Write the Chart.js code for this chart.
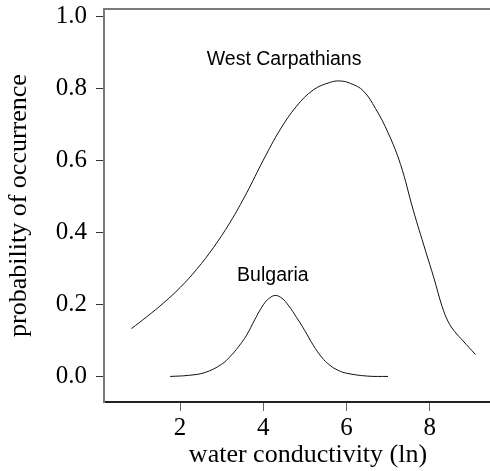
<!DOCTYPE html>
<html>
<head>
<meta charset="utf-8">
<script src="https://cdn.jsdelivr.net/npm/chart.js@4"></script>
<style>
html,body{margin:0;padding:0;background:#fff;}
canvas{display:block;}
</style>
</head>
<body>
<canvas id="c" width="490" height="471"></canvas>
<script>
const westX = [0.83,1.2,1.6,2.0,2.4,2.8,3.2,3.6,4.0,4.4,4.8,5.2,5.6,5.85,6.1,6.4,6.7,7.0,7.3,7.6,7.9,8.1,8.3,8.45,8.6,8.8,9.1];
const westY = [0.134,0.167,0.205,0.248,0.299,0.359,0.429,0.511,0.602,0.686,0.752,0.797,0.818,0.822,0.815,0.795,0.745,0.678,0.590,0.465,0.350,0.275,0.195,0.152,0.126,0.100,0.062];
const bulgX = [1.76,2.2,2.6,3.0,3.2,3.4,3.6,3.8,4.0,4.15,4.3,4.45,4.6,4.8,5.0,5.2,5.4,5.6,5.8,6.0,6.5,7.0];
const bulgY = [0.001,0.004,0.012,0.035,0.056,0.083,0.116,0.160,0.200,0.219,0.226,0.218,0.199,0.165,0.128,0.088,0.055,0.032,0.018,0.010,0.002,0.001];
const xTicks = [2,4,6,8];
const yTicks = [0.0,0.2,0.4,0.6,0.8,1.0];
const seriesLabels = ["West Carpathians","Bulgaria"];
const labelPos = [[4.50,0.866],[4.23,0.267]];
const xTitle = "water conductivity (ln)";
const yTitle = "probability of occurrence";

const toPts = (xs, ys) => xs.map((x, i) => ({x: x, y: ys[i]}));

const serif = "'Liberation Serif', 'Times New Roman', serif";
const sans = "'Liberation Sans', Arial, sans-serif";

const decor = {
  id: 'decor',
  afterDraw(chart) {
    const ctx = chart.ctx, a = chart.chartArea;
    ctx.save();
    ctx.strokeStyle = '#7a7a7a';
    ctx.lineWidth = 2;
    ctx.beginPath();
    ctx.moveTo(a.left - 1, a.top);
    ctx.lineTo(a.right, a.top);
    ctx.stroke();
    ctx.fillStyle = '#000';
    ctx.font = "19.5px " + sans;
    ctx.textAlign = 'center';
    ctx.textBaseline = 'alphabetic';
    const xs = chart.scales.x, ys = chart.scales.y;
    seriesLabels.forEach((t, i) => {
      ctx.fillText(t, xs.getPixelForValue(labelPos[i][0]), ys.getPixelForValue(labelPos[i][1]));
    });
    ctx.font = "26px " + serif;
    ctx.fillText(xTitle, 308, 462);
    ctx.restore();
  }
};

const noPad = s => { s.paddingTop = 0; s.paddingBottom = 0; s.paddingLeft = 0; s.paddingRight = 0; };

new Chart(document.getElementById('c'), {
  type: 'line',
  data: {
    datasets: [
      {label: seriesLabels[0], data: toPts(westX, westY), borderColor: '#111', borderWidth: 1, pointRadius: 0, tension: 0.4, fill: false},
      {label: seriesLabels[1], data: toPts(bulgX, bulgY), borderColor: '#111', borderWidth: 1, pointRadius: 0, tension: 0.4, fill: false}
    ]
  },
  options: {
    responsive: false,
    animation: false,
    devicePixelRatio: 1,
    layout: {padding: {top: 9, right: 0, left: 0, bottom: 0}, autoPadding: false},
    plugins: {legend: {display: false}, tooltip: {enabled: false}},
    scales: {
      x: {
        type: 'linear',
        min: 0.17,
        max: 9.45,
        afterBuildTicks: s => { s.ticks = xTicks.map(v => ({value: v})); },
        afterFit: s => { s.height = 69; noPad(s); },
        border: {display: true, color: '#222', width: 2},
        grid: {display: true, drawOnChartArea: false, drawTicks: true, tickLength: 9, color: '#666', lineWidth: 1},
        ticks: {color: '#000', font: {family: serif, size: 25}, padding: 2, maxRotation: 0, callback: v => String(v)},
        title: {display: false}
      },
      y: {
        type: 'linear',
        min: -0.07,
        max: 1.022,
        afterBuildTicks: s => { s.ticks = yTicks.map(v => ({value: v})); },
        afterFit: s => { s.width = 104; noPad(s); },
        border: {display: true, color: '#7a7a7a', width: 2},
        grid: {display: true, drawOnChartArea: false, drawTicks: true, tickLength: 8, color: '#333', lineWidth: 1},
        ticks: {color: '#000', font: {family: serif, size: 25}, padding: 9, callback: v => Number(v).toFixed(1)},
        title: {display: true, text: yTitle, color: '#000', font: {family: serif, size: 26}, padding: {top: 4, bottom: 0}}
      }
    }
  },
  plugins: [decor]
});
</script>
</body>
</html>
